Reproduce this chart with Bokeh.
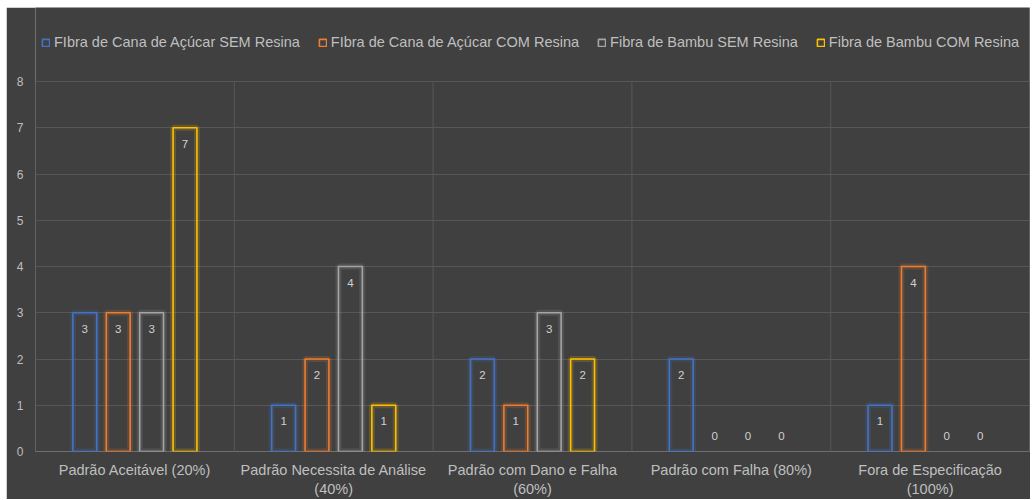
from bokeh.plotting import figure
from bokeh.models import (ColumnDataSource, FactorRange, Legend, LegendItem, CDSView,
                          BooleanFilter, CategoricalAxis)
from bokeh.transform import dodge
from bokeh.core.properties import value
from bokeh.embed import file_html
from bokeh.resources import INLINE

# first line of each category label (used as the category factor)
categories = ["Padrão Aceitável (20%)", "Padrão Necessita de Análise",
              "Padrão com Dano e Falha", "Padrão com Falha (80%)",
              "Fora de Especificação"]
# second line of each category label (blank ones kept unique)
label_line2 = [" ", "(40%)", "(60%)", "  ", "(100%)"]
series_names = ["FIbra de Cana de Açúcar SEM Resina", "FIbra de Cana de Açúcar COM Resina",
                "Fibra de Bambu SEM Resina", "Fibra de Bambu COM Resina"]
cana_sem = [3, 1, 2, 2, 1]
cana_com = [3, 2, 1, 0, 4]
bambu_sem = [3, 4, 3, 0, 0]
bambu_com = [7, 1, 2, 0, 0]
y_ticks = [0, 1, 2, 3, 4, 5, 6, 7, 8]

series_values = [cana_sem, cana_com, bambu_sem, bambu_com]
colors = ["#4472C4", "#ED7D31", "#A5A5A5", "#FFC000"]
offsets = [-0.252, -0.084, 0.084, 0.252]
FONT = "Liberation Sans"
TXT = "#bfbfbf"
BG = "#404040"
GRID = "#575757"
FRAME_H = 444
Y_TOP = 9.6   # headroom above 8 holds the legend

p = figure(x_range=FactorRange(factors=categories, range_padding=0),
           y_range=(0, Y_TOP), frame_width=994, frame_height=FRAME_H,
           output_backend="svg", toolbar_location=None,
           background_fill_color=BG, border_fill_color=BG,
           min_border_left=29, min_border_right=1, min_border_top=0, min_border_bottom=46)
p.margin = (7, 0, 0, 6)
p.outline_line_color = None
p.extra_x_ranges = {"l2": FactorRange(factors=label_line2, range_padding=0)}

# vertical category separators (0..8 only)
sep = ColumnDataSource(dict(cat=categories, y0=[0] * 5, y1=[8] * 5))
p.segment(x0=dodge("cat", -0.5, range=p.x_range), y0="y0",
          x1=dodge("cat", -0.5, range=p.x_range), y1="y1",
          source=sep, line_color=GRID, line_width=1)
sep_end = ColumnDataSource(dict(cat=categories[-1:], y0=[0], y1=[8]))
p.segment(x0=dodge("cat", 0.5, range=p.x_range), y0="y0",
          x1=dodge("cat", 0.5, range=p.x_range), y1="y1",
          source=sep_end, line_color=GRID, line_width=1)

items = []
for name, vals, col, off in zip(series_names, series_values, colors, offsets):
    ly = [v - 0.35 if v > 0 else 0.33 for v in vals]
    src = ColumnDataSource(dict(cat=categories, val=vals, ly=ly, lt=[str(v) for v in vals]))
    view = CDSView(filter=BooleanFilter([v > 0 for v in vals]))
    x = dodge("cat", off, range=p.x_range)
    p.vbar(x=x, top="val", width=0.12, source=src, view=view,
           fill_color=None, line_color=col, line_width=6, line_alpha=0.18)
    r = p.vbar(x=x, top="val", width=0.12, source=src, view=view,
               fill_color=None, line_color=col, line_width=1.6)
    p.text(x=x, y="ly", text="lt", source=src, text_align="center", text_baseline="middle",
           text_font=value(FONT), text_font_size="11.5px", text_color="#d0d0d0")
    items.append(LegendItem(label=name, renderers=[r]))

p.xgrid.visible = False
p.ygrid.grid_line_color = GRID
p.ygrid.ticker = y_ticks
p.yaxis.ticker = y_ticks

x2 = CategoricalAxis(x_range_name="l2")
p.add_layout(x2, "below")

for ax in (p.xaxis[0], x2, p.yaxis[0]):
    ax.axis_line_color = None
    ax.major_tick_line_color = None
    ax.minor_tick_line_color = None
    ax.major_tick_out = 0
    ax.major_tick_in = 0
    ax.minor_tick_out = 0
    ax.major_label_text_color = TXT
    ax.major_label_text_font = FONT
p.yaxis.major_label_text_font_size = "12px"
p.yaxis.major_label_standoff = 12
p.xaxis[0].major_label_text_font_size = "14.5px"
p.xaxis[0].major_label_standoff = 10
x2.major_label_text_font_size = "14.5px"
x2.major_label_standoff = 0

legend = Legend(items=items, orientation="horizontal", location=(6, 401),
                background_fill_alpha=0, border_line_color=None,
                label_text_color=TXT, label_text_font=FONT, label_text_font_size="14.5px",
                glyph_width=9, glyph_height=9, label_standoff=4, spacing=18,
                margin=0, padding=4)
p.add_layout(legend)

open("out.html", "w").write(file_html(p, INLINE))
